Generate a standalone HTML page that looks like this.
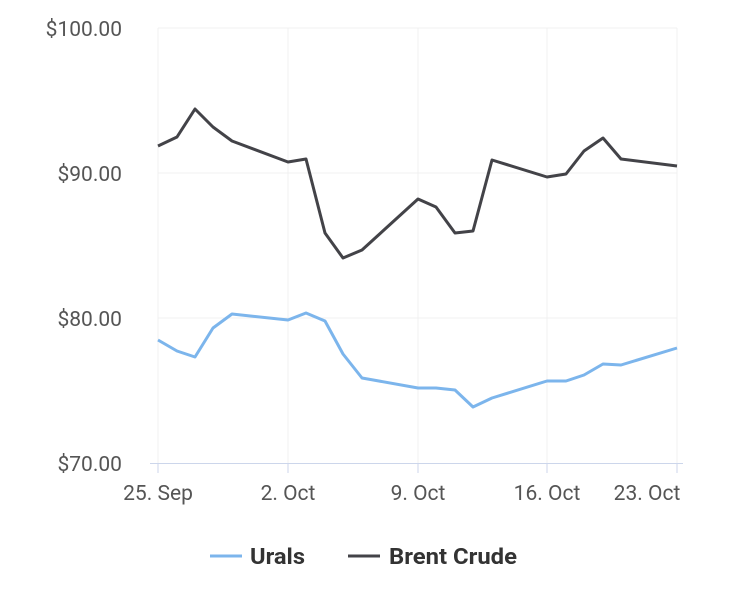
<!DOCTYPE html>
<html><head><meta charset="utf-8"><style>
body{margin:0;background:#fff;}
svg text{font-family:"Roboto","Liberation Sans",sans-serif;}
</style></head><body>
<svg width="730" height="588" viewBox="0 0 730 588" xmlns="http://www.w3.org/2000/svg">
<g stroke="#f0f0f0" stroke-width="1">
<line x1="158" y1="28" x2="677" y2="28"/>
<line x1="158" y1="173" x2="677" y2="173"/>
<line x1="158" y1="318" x2="677" y2="318"/>
<line x1="158" y1="28" x2="158" y2="463"/>
<line x1="288" y1="28" x2="288" y2="463"/>
<line x1="418" y1="28" x2="418" y2="463"/>
<line x1="547" y1="28" x2="547" y2="463"/>
<line x1="677" y1="28" x2="677" y2="463"/>
</g>
<line x1="150" y1="463.5" x2="683" y2="463.5" stroke="#ccd6eb" stroke-width="1"/>
<g stroke="#ccd6eb"><line x1="158" y1="463" x2="158" y2="473"/><line x1="288" y1="463" x2="288" y2="473"/><line x1="418" y1="463" x2="418" y2="473"/><line x1="547" y1="463" x2="547" y2="473"/><line x1="677" y1="463" x2="677" y2="473"/></g>
<g font-size="21" fill="#555" text-anchor="end">
<text x="122" y="36">$100.00</text>
<text x="122" y="181">$90.00</text>
<text x="122" y="326">$80.00</text>
<text x="122" y="471">$70.00</text>
</g>
<g font-size="21" fill="#555" text-anchor="middle">
<text x="158" y="500">25. Sep</text>
<text x="288" y="500">2. Oct</text>
<text x="418" y="500">9. Oct</text>
<text x="547" y="500">16. Oct</text>
<text x="647" y="500">23. Oct</text>
</g>
<polyline fill="none" stroke="#434348" stroke-width="3" stroke-linejoin="round" points="158,146 177,137 195,109 213,127 232,141 288,162 306,159 325,233 343,258 362,250 418,199 436,207 455,233 473,231 492,160 547,177 566,174 584,151 603,138 621,159 677,166"/>
<polyline fill="none" stroke="#7cb5ec" stroke-width="3" stroke-linejoin="round" points="158,340 177,351 195,357 213,328 232,314 288,320 306,313 325,321 343,354 362,378 418,388 436,388 455,390 473,407 492,398 547,381 566,381 584,375 603,364 621,365 677,348"/>
<line x1="210" y1="556" x2="242" y2="556" stroke="#7cb5ec" stroke-width="3"/>
<text x="250" y="564" font-size="22" font-weight="bold" fill="#333" textLength="55" lengthAdjust="spacingAndGlyphs">Urals</text>
<line x1="348" y1="556" x2="380" y2="556" stroke="#434348" stroke-width="3"/>
<text x="389" y="564" font-size="22" font-weight="bold" fill="#333" textLength="128" lengthAdjust="spacingAndGlyphs">Brent Crude</text>
</svg>
</body></html>
